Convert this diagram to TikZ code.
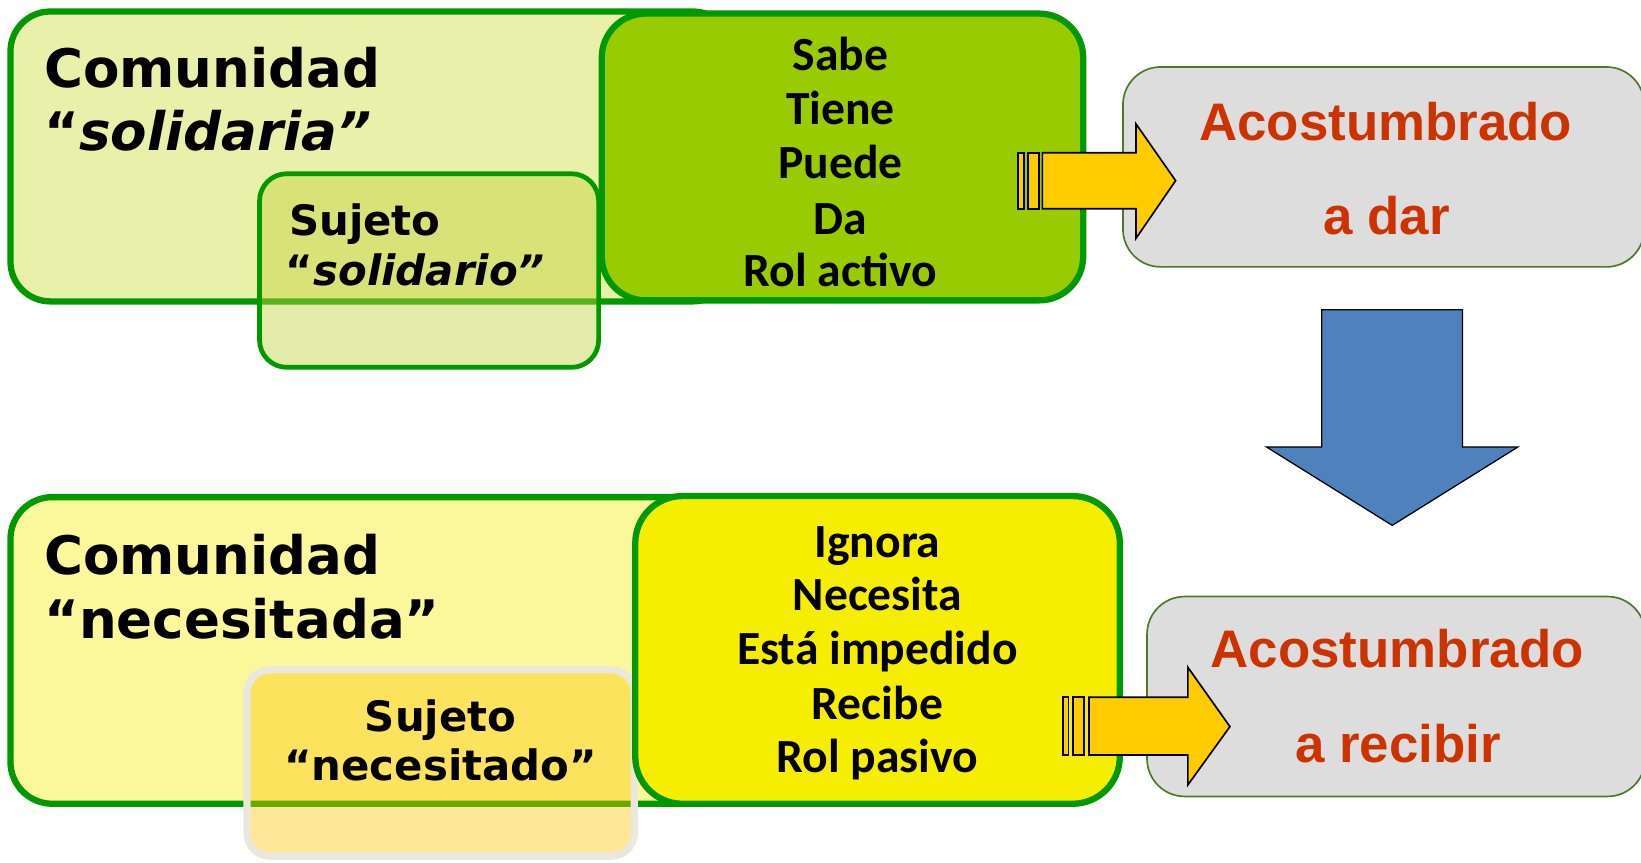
\documentclass[tikz,border=0pt]{standalone}
\usepackage{fontspec}
\newfontfamily\verd{DejaVu Sans}
\newfontfamily\calb{Carlito}
\newfontfamily\arib{Liberation Sans}
\definecolor{grn}{HTML}{009900}
\definecolor{comAfill}{HTML}{E9F0A9}
\definecolor{comBfill}{HTML}{FBF89C}
\definecolor{sujAfill}{HTML}{C4D23C}
\definecolor{sujBfill}{HTML}{FFC500}
\definecolor{sabefill}{HTML}{99CC00}
\definecolor{ignfill}{HTML}{F6EE00}
\definecolor{grayfill}{HTML}{DDDDDD}
\definecolor{grayline}{HTML}{4E7A27}
\definecolor{sujBline}{HTML}{EAE7DD}
\definecolor{redtxt}{HTML}{CC3300}
\definecolor{yarrow}{HTML}{FFCC00}
\definecolor{barrow}{HTML}{4F81BD}
\tikzset{
  panel/.style={draw=grn, line width=6pt, rectangle, anchor=north west, outer sep=0pt, inner sep=0pt},
  graybox/.style={draw=grayline, line width=1.6pt, fill=grayfill, rectangle, rounded corners=36pt, anchor=north west, outer sep=0pt, inner sep=0pt},
  comtxt/.style={anchor=base west, inner sep=0pt, font=\verd\bfseries\fontsize{50.7}{60}\selectfont},
  sujtxt/.style={inner sep=0pt, font=\verd\bfseries\fontsize{40}{48}\selectfont},
  listtxt/.style={anchor=base, inner sep=0pt, font=\calb\bfseries\fontsize{45.5}{52}\selectfont},
  redtext/.style={anchor=base, inner sep=0pt, text=redtxt, font=\arib\bfseries\fontsize{50.5}{60}\selectfont},
  yarr/.style={draw=black, line width=1.6pt, fill=yarrow, line join=miter},
  barr/.style={draw=black, line width=1.2pt, fill=barrow, line join=miter}
}
\begin{document}
\begin{tikzpicture}[x=1pt,y=-1pt]
\useasboundingbox (0,0) rectangle (1568,824);
\fill[white] (0,0) rectangle (1568,824);

% ---------- top row ----------
\node[panel, fill=comAfill, rounded corners=38pt, minimum width=690pt, minimum height=277pt] (comA) at (10,11) {};
\node[panel, line width=4.5pt, fill=sujAfill, fill opacity=0.45, draw opacity=1, rounded corners=26pt, minimum width=324pt, minimum height=185pt] (sujA) at (248,166) {};
\node[panel, fill=sabefill, rounded corners=42pt, minimum width=460pt, minimum height=274pt] (sabe) at (575,13) {};
\node[graybox, minimum width=498pt, minimum height=191pt] (grayA) at (1073,64) {};

\node[comtxt] (comA1) at (42,84) {Comunidad};
\node[comtxt] (comA2) at (42,144) {“\textit{solidaria”}};
\node[sujtxt, anchor=base west] (sujA1) at (276,225) {Sujeto};
\node[sujtxt, anchor=base west] (sujA2) at (273,273) {“\textit{solidario”}};

\node[listtxt] (l1) at (803,67.3) {Sabe};
\node[listtxt] (l2) at (803,119.3) {Tiene};
\node[listtxt] (l3) at (803,171) {Puede};
\node[listtxt] (l4) at (803,223.6) {Da};
\node[listtxt] (l5) at (803,273.7) {Rol activo};

\node[redtext] (acA1) at (1324,134) {Acostumbrado};
\node[redtext] (acA2) at (1325,224.5) {a dar};

% yellow arrow top
\draw[yarr] (973,146) rectangle (978.5,199.5);
\draw[yarr] (982,146) rectangle (993,199.5);
\draw[yarr] (996,146) -- (1085.5,146) -- (1085.5,118.5) -- (1123.3,172.6) -- (1085.5,227.7) -- (1085.5,199.5) -- (996,199.5) -- cycle;

% blue down arrow
\draw[barr] (1263,296) -- (1397.5,296) -- (1397.5,427) -- (1450.5,427) -- (1330.3,502) -- (1210,427) -- (1263,427) -- cycle;

% ---------- bottom row ----------
\node[panel, fill=comBfill, rounded corners=40pt, minimum width=690pt, minimum height=293pt] (comB) at (10,475) {};
\node[panel, draw=sujBline, line width=7pt, fill=sujBfill, fill opacity=0.4, draw opacity=1, rounded corners=22pt, minimum width=370pt, minimum height=178pt] (sujB) at (236,640) {};
\node[panel, fill=ignfill, rounded corners=45pt, minimum width=463pt, minimum height=294pt] (ign) at (607,474) {};
\node[graybox, minimum width=476pt, minimum height=191pt] (grayB) at (1096,570) {};

\node[comtxt] (comB1) at (42,549) {Comunidad};
\node[comtxt] (comB2) at (42,610) {“necesitada”};
\node[sujtxt, anchor=base] (sujB1) at (421,699) {Sujeto};
\node[sujtxt, anchor=base] (sujB2) at (421,746) {“necesitado”};

\node[listtxt] (m1) at (838.4,532.3) {Ignora};
\node[listtxt] (m2) at (838.4,583) {Necesita};
\node[listtxt] (m3) at (838.4,635.2) {Está impedido};
\node[listtxt] (m4) at (838.4,687.2) {Recibe};
\node[listtxt] (m5) at (838.4,738) {Rol pasivo};

\node[redtext] (acB1) at (1335,638) {Acostumbrado};
\node[redtext] (acB2) at (1336,729) {a recibir};

% yellow arrow bottom
\draw[yarr] (1015.5,666.3) rectangle (1021,721.4);
\draw[yarr] (1025,666.3) rectangle (1036,721.4);
\draw[yarr] (1040.5,666.3) -- (1135,666.3) -- (1135,637.6) -- (1175.2,694.3) -- (1135,750) -- (1135,721.4) -- (1040.5,721.4) -- cycle;
\end{tikzpicture}
\end{document}
